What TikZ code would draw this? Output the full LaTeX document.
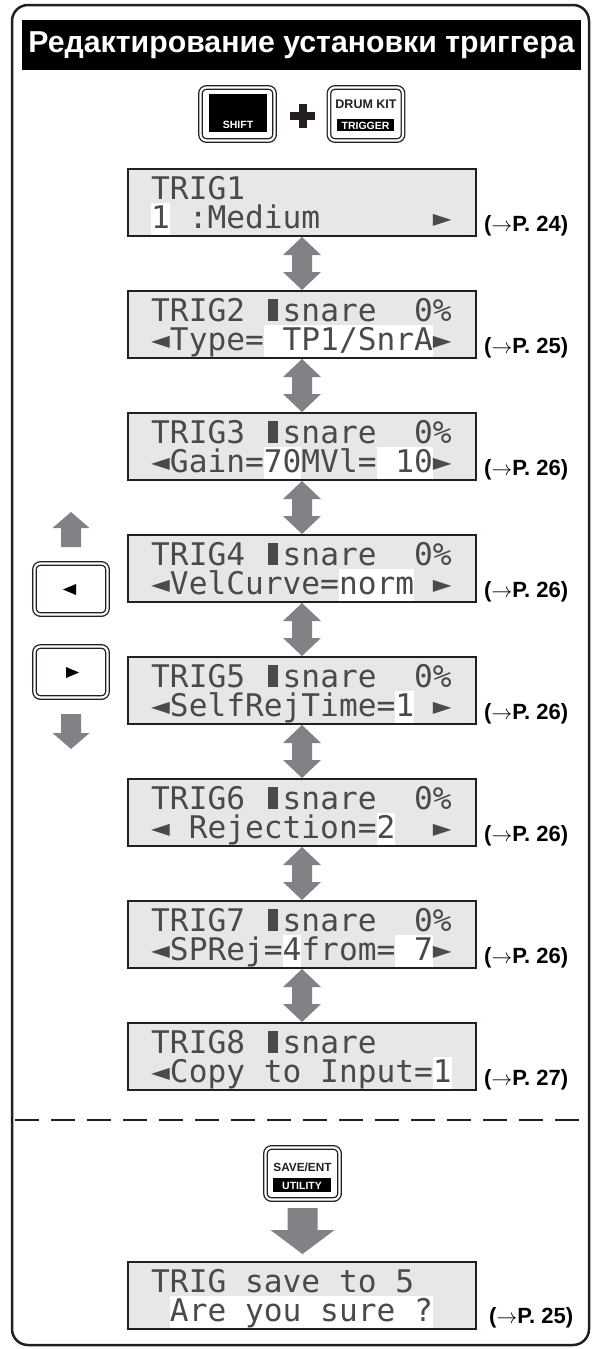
\documentclass[tikz,border=0pt]{standalone}
\usepackage{fontspec}
\usepackage{graphicx}
\setmainfont{Liberation Sans}
\newfontfamily\lcdfont{DejaVu Sans Mono}
\usetikzlibrary{calc}
\definecolor{lcdbg}{HTML}{E6E7E8}
\definecolor{arrgray}{HTML}{808285}
\definecolor{ink}{HTML}{231F20}
\definecolor{lcdink}{HTML}{4A4A4A}
\newcommand\pad{\makebox[0.60205em]{\rule{0.33em}{0.72em}}}
\newcommand\pref[1]{(\ensuremath{\rightarrow}P.~#1)}
\newcommand\lcdbox[2]{\node[lcd] (#1) at (302,#2+34.5) {};}
\newcommand\hlt[3]{\fill[white] (151+18.8*#2,#1+35) rectangle (169.8+18.8*#3,#1+67);}
\newcommand\lcdlines[4]{%
  \node[lcdtxt] (#1a) at (151,#2+31) {#3};
  \node[lcdtxt] (#1b) at (151,#2+60) {#4};}
\newcommand\dblarrow[2]{%
  \fill[arrgray] let \p1=(#1.south), \p2=(#2.north) in
  (\x1,\y1) -- (\x1+19pt,\y1-18pt) -- (\x1+10pt,\y1-18pt) -- (\x1+10pt,\y2+18pt)
  -- (\x1+19pt,\y2+18pt) -- (\x1,\y2) -- (\x1-19pt,\y2+18pt) -- (\x1-10pt,\y2+18pt)
  -- (\x1-10pt,\y1-18pt) -- (\x1-19pt,\y1-18pt) -- cycle;}
\begin{document}
\begin{tikzpicture}[x=1pt,y=-1pt,
  lcd/.style={draw=ink, line width=2pt, fill=lcdbg, minimum width=348pt, minimum height=67pt, inner sep=0pt},
  lcdtxt/.style={anchor=base west, inner sep=0pt, text=lcdink, font=\lcdfont\fontsize{31.2}{31.2}\selectfont},
  preflab/.style={anchor=base west, inner sep=0pt, font=\bfseries\fontsize{22}{22}\selectfont},
  btn/.style={draw=ink, double=white, double distance=2.2pt, line width=1.3pt, rounded corners=6pt, fill=white, inner sep=0pt},
  btntxt/.style={inner sep=0pt, anchor=base, font=\bfseries\fontsize{#1}{#1}\selectfont},
  btntxt/.default=11
]
\useasboundingbox (0,0) rectangle (594,1349);
% frame
\draw[ink, line width=2.5pt, rounded corners=16pt] (12,5) rectangle (589,1345);
% title
\fill[black] (22,20) rectangle (581,70);
\node[anchor=base, inner sep=0pt, text=white, font=\bfseries] (title) at (301.5,52) {\resizebox{546pt}{!}{Редактирование установки триггера}};
% top buttons
\node[btn, minimum width=74pt, minimum height=53pt] (shift) at (237.5,114) {};
\fill[black] (209,94) rectangle (267,132);
\node[btntxt=10.5, text=white] (shiftt) at (238,128) {SHIFT};
\fill[ink] (290,112) rectangle (315,120);
\fill[ink] (298.5,104) rectangle (306.5,128);
\node[btn, minimum width=74pt, minimum height=53pt] (drum) at (366,114) {};
\node[btntxt=12.5, text=ink] (drumt) at (366,108) {DRUM KIT};
\fill[black] (337,119) rectangle (394,131);
\node[btntxt=10.5, text=white] (trigt) at (365.5,129) {TRIGGER};
% left buttons
\fill[arrgray] (71,512) -- (89.5,528) -- (81,528) -- (81,547) -- (61,547) -- (61,528) -- (52.5,528) -- cycle;
\node[btn, minimum width=73pt, minimum height=51pt] (left) at (71,589) {};
\fill[black] (63,589.5) -- (76,584) -- (76,595) -- cycle;
\node[btn, minimum width=73pt, minimum height=51pt] (right) at (71,672) {};
\fill[black] (79,672.5) -- (66,667) -- (66,678) -- cycle;
\fill[arrgray] (71,749) -- (89.5,733) -- (81,733) -- (81,714) -- (61,714) -- (61,733) -- (52.5,733) -- cycle;
% LCD 1
\lcdbox{t1}{168}
\hlt{168}{0}{0}
\lcdlines{t1}{168}{TRIG1}{1~:Medium~~~~~~►}
\node[preflab] (p1) at (484,168+63) {\pref{24}};
% LCD 2
\lcdbox{t2}{290}
\hlt{290}{6}{14}
\lcdlines{t2}{290}{TRIG2~\pad snare~~0\%}{◄Type=~TP1/SnrA►}
\node[preflab] (p2) at (484,290+63) {\pref{25}};
% LCD 3
\lcdbox{t3}{412}
\hlt{412}{6}{7}
\hlt{412}{12}{14}
\lcdlines{t3}{412}{TRIG3~\pad snare~~0\%}{◄Gain=70MVl=~10►}
\node[preflab] (p3) at (484,412+63) {\pref{26}};
% LCD 4
\lcdbox{t4}{534}
\hlt{534}{10}{13}
\lcdlines{t4}{534}{TRIG4~\pad snare~~0\%}{◄VelCurve=norm~►}
\node[preflab] (p4) at (484,534+63) {\pref{26}};
% LCD 5
\lcdbox{t5}{656}
\hlt{656}{13}{13}
\lcdlines{t5}{656}{TRIG5~\pad snare~~0\%}{◄SelfRejTime=1~►}
\node[preflab] (p5) at (484,656+63) {\pref{26}};
% LCD 6
\lcdbox{t6}{778}
\hlt{778}{12}{12}
\lcdlines{t6}{778}{TRIG6~\pad snare~~0\%}{◄~Rejection=2~~►}
\node[preflab] (p6) at (484,778+63) {\pref{26}};
% LCD 7
\lcdbox{t7}{900}
\hlt{900}{7}{7}
\hlt{900}{13}{14}
\lcdlines{t7}{900}{TRIG7~\pad snare~~0\%}{◄SPRej=4from=~7►}
\node[preflab] (p7) at (484,900+63) {\pref{26}};
% LCD 8
\lcdbox{t8}{1022}
\hlt{1022}{15}{15}
\lcdlines{t8}{1022}{TRIG8~\pad snare}{◄Copy~to~Input=1}
\node[preflab] (p8) at (484,1022+63) {\pref{27}};
% double arrows
\dblarrow{t1}{t2}
\dblarrow{t2}{t3}
\dblarrow{t3}{t4}
\dblarrow{t4}{t5}
\dblarrow{t5}{t6}
\dblarrow{t6}{t7}
\dblarrow{t7}{t8}
% dashed separator
\draw[ink, line width=2.5pt, dash pattern=on 24pt off 12pt] (15,1120) -- (588,1120);
% save button
\node[btn, minimum width=74pt, minimum height=52pt] (save) at (302.5,1173.5) {};
\node[btntxt=11.8, text=ink] (savet) at (302.5,1171) {SAVE/ENT};
\fill[black] (273,1178) rectangle (331,1192);
\node[btntxt=10.5, text=white] (utilt) at (302,1189) {UTILITY};
% final LCD
\lcdbox{tf}{1261}
\hlt{1261}{1}{14}
\lcdlines{tf}{1261}{TRIG~save~to~5}{~Are~you~sure~?}
\node[preflab] (pf) at (489,1261+62) {\pref{25}};
% big arrow
\fill[arrgray] let \p1=(save.south), \p2=(tf.north) in
  (\x1-15pt,\y1-8pt) -- (\x1+15pt,\y1-8pt) -- (\x1+15pt,\y2+31pt) -- (\x1+32pt,\y2+31pt)
  -- (\x1,\y2+7pt) -- (\x1-32pt,\y2+31pt) -- (\x1-15pt,\y2+31pt) -- cycle;
\end{tikzpicture}
\end{document}
